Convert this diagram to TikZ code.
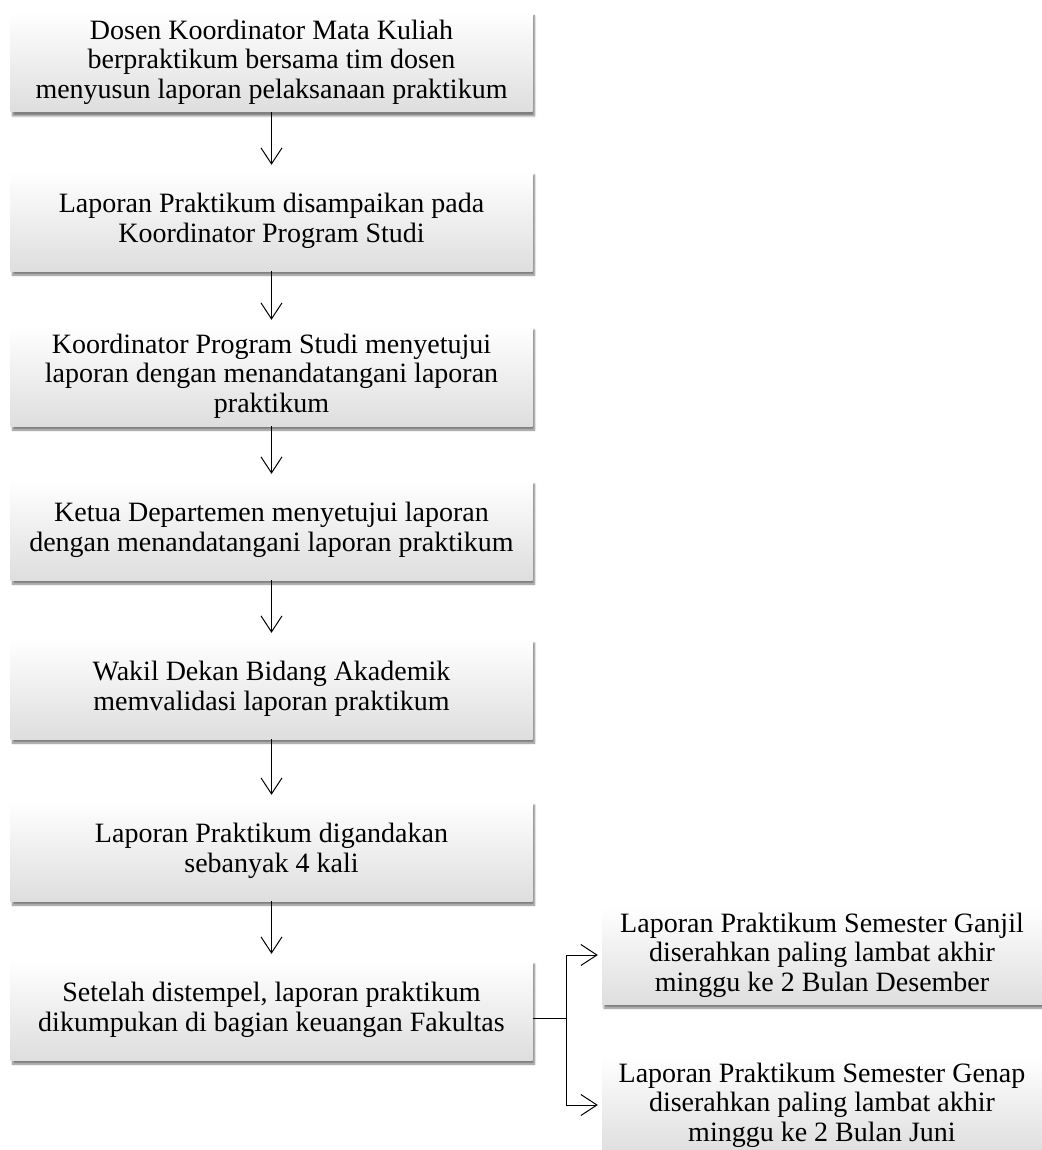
\documentclass[tikz,border=0pt]{standalone}
\usepackage{fontspec}
\setmainfont{Liberation Serif}
\usetikzlibrary{arrows.meta,shadows.blur}
\begin{document}
\begin{tikzpicture}[x=1pt,y=-1pt,
  box/.style={rectangle, inner sep=0pt, align=center,
    minimum width=522pt, minimum height=100pt,
    top color=white, middle color=white, bottom color=black!13,
    blur shadow={shadow xshift=2pt, shadow yshift=-4pt, shadow opacity=50, shadow blur steps=6},
    font=\fontsize{28}{29.5}\selectfont},
  sidebox/.style={box, minimum width=440pt, minimum height=98pt},
  arr/.style={line width=1pt, -{Straight Barb[length=16pt,width=21pt,line width=1pt]}},
  conn/.style={line width=1pt}]
\useasboundingbox (0,0) rectangle (1041,1150);
\node[box] (b1) at (271.5,62) {Dosen Koordinator Mata Kuliah\\berpraktikum bersama tim dosen\\menyusun laporan pelaksanaan praktikum};
\node[box] (b2) at (271.5,221) {Laporan Praktikum disampaikan pada\\Koordinator Program Studi};
\node[box] (b3) at (271.5,376) {Koordinator Program Studi menyetujui\\laporan dengan menandatangani laporan\\praktikum};
\node[box] (b4) at (271.5,530) {Ketua Departemen menyetujui laporan\\dengan menandatangani laporan praktikum};
\node[box] (b5) at (271.5,689) {Wakil Dekan Bidang Akademik\\memvalidasi laporan praktikum};
\node[box] (b6) at (271.5,851) {Laporan Praktikum digandakan\\sebanyak 4 kali};
\node[box] (b7) at (271.5,1010) {Setelah distempel, laporan praktikum\\dikumpukan di bagian keuangan Fakultas};
\node[sidebox] (r1) at (822,955) {Laporan Praktikum Semester Ganjil\\diserahkan paling lambat akhir\\minggu ke 2 Bulan Desember};
\node[sidebox] (r2) at (822,1105) {Laporan Praktikum Semester Genap\\diserahkan paling lambat akhir\\minggu ke 2 Bulan Juni};
\draw[arr, shorten >=6pt] (b1.south) -- (b2.north);
\draw[arr, shorten >=6pt] (b2.south) -- (b3.north);
\draw[arr, shorten >=6pt] (b3.south) -- (b4.north);
\draw[arr, shorten >=6pt] (b4.south) -- (b5.north);
\draw[arr, shorten >=6pt] (b5.south) -- (b6.north);
\draw[arr, shorten >=6pt] (b6.south) -- (b7.north);
\coordinate (br) at (566,1018);
\draw[conn] (b7.east |- br) -- (br);
\draw[arr, shorten >=4pt] (br) |- (r1.west);
\draw[arr, shorten >=4pt] (br) |- (r2.west);
\end{tikzpicture}
\end{document}
